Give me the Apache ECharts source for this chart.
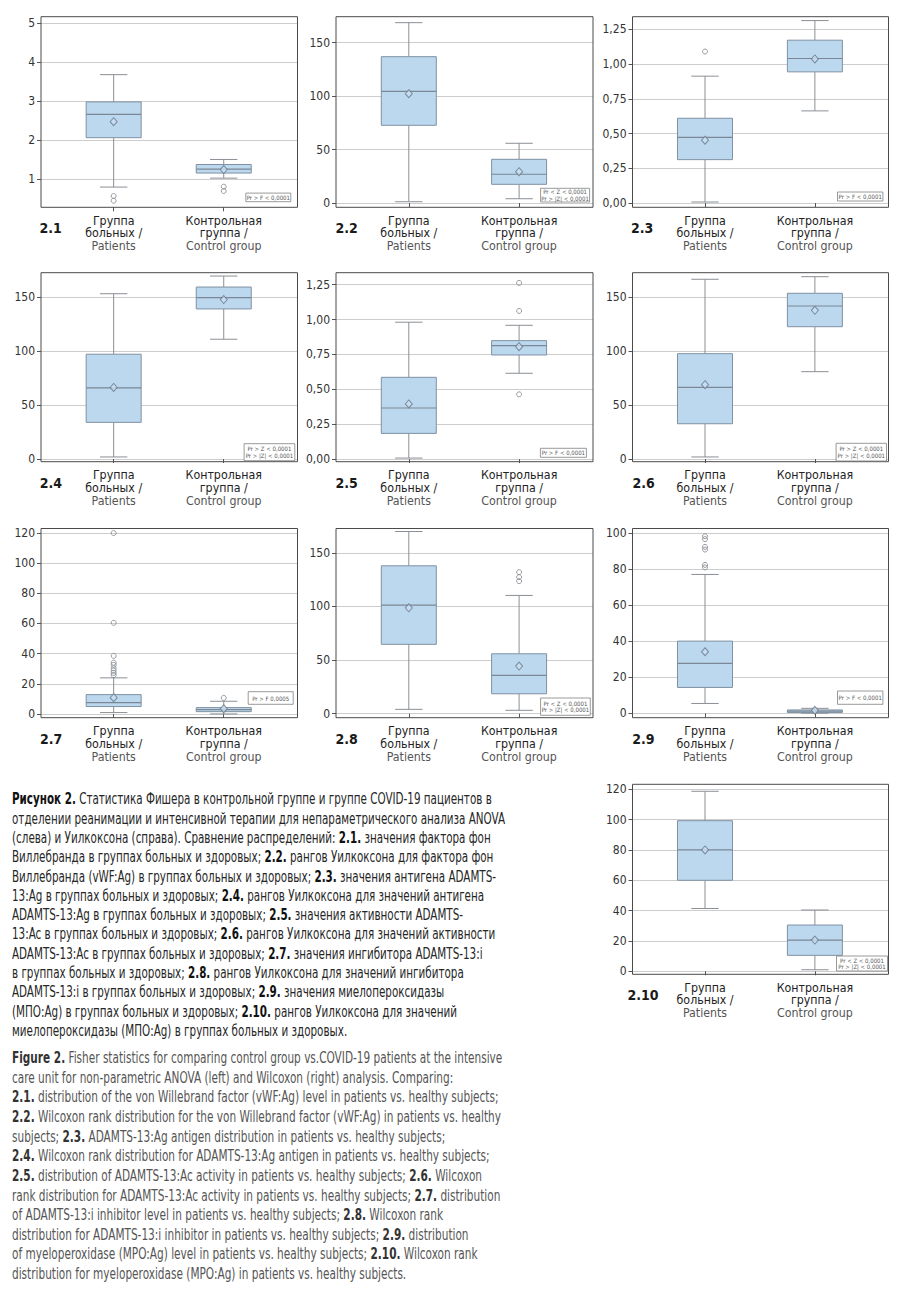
<!DOCTYPE html>
<html>
<head>
<meta charset="utf-8">
<script src="https://cdn.jsdelivr.net/npm/echarts@6/dist/echarts.min.js"></script>
<style>
html,body{margin:0;padding:0;background:#fff;}
#chart{position:absolute;left:0;top:0;width:900px;height:1291px;}
.cap{position:absolute;left:12px;font-family:"Liberation Sans Narrow","Arial Narrow","DejaVu Sans Condensed",Roboto,sans-serif;font-size:15px;white-space:nowrap;transform-origin:0 0;}
#capRu{top:790.4px;color:#262626;}
#capEn{top:1049.2px;color:#555;}
#capRu div{height:19.3px;line-height:19.3px;}
#capEn div{height:19.64px;line-height:19.64px;}
#capRu b{color:#111;}
#capEn b{color:#333;}
</style>
</head>
<body>
<div id="chart"></div>
<div id="capRu" class="cap"></div>
<div id="capEn" class="cap"></div>
<script>
const FONT = '"Liberation Sans Narrow","Arial Narrow","DejaVu Sans Condensed",Roboto,sans-serif';

// ---------------- DATA ----------------
const categoryLines = [['Группа', 'больных /', 'Patients'], ['Контрольная', 'группа /', 'Control group']];
const panelNames = ['2.1', '2.2', '2.3', '2.4', '2.5', '2.6', '2.7', '2.8', '2.9', '2.10'];

// box stats: [min whisker, Q1, median, Q3, max whisker]
const box21P = [0.79, 2.06, 2.66, 2.98, 3.68];
const box21C = [1.02, 1.15, 1.25, 1.37, 1.50];
const mean21 = [2.47, 1.24];
const out21P = [0.56, 0.44];
const out21C = [0.80, 0.69];

const box22P = [1.2, 72.7, 104.5, 136.9, 168.7];
const box22C = [4.0, 17.5, 26.9, 40.9, 55.9];
const mean22 = [102.3, 29.3];

const box23P = [0.007, 0.312, 0.473, 0.610, 0.913];
const box23C = [0.663, 0.944, 1.040, 1.172, 1.313];
const mean23 = [0.452, 1.037];
const out23P = [1.090];

const box24P = [1.9, 34.0, 66.0, 97.2, 153.3];
const box24C = [111.1, 139.2, 149.7, 159.5, 169.7];
const mean24 = [66.4, 147.9];

const box25P = [0.007, 0.184, 0.366, 0.586, 0.981];
const box25C = [0.615, 0.746, 0.813, 0.849, 0.959];
const mean25 = [0.395, 0.806];
const out25C = [1.263, 1.062, 0.464];

const box26P = [1.9, 32.7, 66.5, 97.7, 166.7];
const box26C = [81.0, 122.7, 141.9, 153.7, 169.1];
const mean26 = [68.9, 137.9];

const box27P = [0.9, 4.9, 7.5, 12.8, 23.9];
const box27C = [0.0, 1.5, 2.9, 4.2, 8.4];
const mean27 = [10.8, 3.5];
const out27P = [119.9, 60.4, 38.5, 34.0, 32.5, 30.3, 28.7, 27.2, 25.7];
const out27C = [10.6];

const box28P = [4.1, 64.7, 101.3, 137.9, 169.9];
const box28C = [3.2, 18.6, 35.8, 55.9, 110.3];
const mean28 = [98.8, 44.4];
const out28C = [132.0, 127.4, 123.6];

const box29P = [5.5, 14.4, 27.7, 40.1, 77.1];
const box29C = [0.1, 0.5, 1.2, 1.9, 2.8];
const mean29 = [34.2, 1.7];
const out29P = [98.3, 96.7, 92.4, 90.9, 82.4, 81.0];

const box210P = [41.4, 60.0, 80.0, 99.3, 118.7];
const box210C = [1.0, 10.5, 20.6, 30.5, 40.4];
const mean210 = [80.0, 20.6];

// y-axis extents and tick steps
const yExtent = [[0.27, 5.17], [-4.0, 174.3], [-0.031, 1.341], [-2.5, 172.8], [-0.019, 1.336],
                 [-2.5, 172.8], [-2.5, 122.9], [-3.7, 172.7], [-2.4, 102.6], [-2.0, 123.3]];
const yStep = [1, 50, 0.25, 50, 0.25, 50, 20, 50, 20, 20];
const yDecimals = [0, 0, 2, 0, 2, 0, 0, 0, 0, 0];

const statF = ['Pr > F < 0,0001'];
const statF7 = ['Pr > F 0,0005'];
const statZlow = ['Pr < Z < 0,0001', 'Pr > |Z| < 0,0001'];
const statZhigh = ['Pr > Z < 0,0001', 'Pr > |Z| < 0,0001'];

const captionRu = [
  '<b>Рисунок 2.</b> Статистика Фишера в контрольной группе и группе COVID-19 пациентов в',
  'отделении реанимации и интенсивной терапии для непараметрического анализа ANOVA',
  '(слева) и Уилкоксона (справа). Сравнение распределений: <b>2.1.</b> значения фактора фон',
  'Виллебранда в группах больных и здоровых; <b>2.2.</b> рангов Уилкоксона для фактора фон',
  'Виллебранда (vWF:Ag) в группах больных и здоровых; <b>2.3.</b> значения антигена ADAMTS-',
  '13:Ag в группах больных и здоровых; <b>2.4.</b> рангов Уилкоксона для значений антигена',
  'ADAMTS-13:Ag в группах больных и здоровых; <b>2.5.</b> значения активности ADAMTS-',
  '13:Ac в группах больных и здоровых; <b>2.6.</b> рангов Уилкоксона для значений активности',
  'ADAMTS-13:Ac в группах больных и здоровых; <b>2.7.</b> значения ингибитора ADAMTS-13:i',
  'в группах больных и здоровых; <b>2.8.</b> рангов Уилкоксона для значений ингибитора',
  'ADAMTS-13:i в группах больных и здоровых; <b>2.9.</b> значения миелопероксидазы',
  '(МПО:Ag) в группах больных и здоровых; <b>2.10.</b> рангов Уилкоксона для значений',
  'миелопероксидазы (МПО:Ag) в группах больных и здоровых.'
];
const captionEn = [
  '<b>Figure 2.</b> Fisher statistics for comparing control group vs.COVID-19 patients at the intensive',
  'care unit for non-parametric ANOVA (left) and Wilcoxon (right) analysis. Comparing:',
  '<b>2.1.</b> distribution of the von Willebrand factor (vWF:Ag) level in patients vs. healthy subjects;',
  '<b>2.2.</b> Wilcoxon rank distribution for the von Willebrand factor (vWF:Ag) in patients vs. healthy',
  'subjects; <b>2.3.</b> ADAMTS-13:Ag antigen distribution in patients vs. healthy subjects;',
  '<b>2.4.</b> Wilcoxon rank distribution for ADAMTS-13:Ag antigen in patients vs. healthy subjects;',
  '<b>2.5.</b> distribution of ADAMTS-13:Ac activity in patients vs. healthy subjects; <b>2.6.</b> Wilcoxon',
  'rank distribution for ADAMTS-13:Ac activity in patients vs. healthy subjects; <b>2.7.</b> distribution',
  'of ADAMTS-13:i inhibitor level in patients vs. healthy subjects; <b>2.8.</b> Wilcoxon rank',
  'distribution for ADAMTS-13:i inhibitor in patients vs. healthy subjects; <b>2.9.</b> distribution',
  'of myeloperoxidase (MPO:Ag) level in patients vs. healthy subjects; <b>2.10.</b> Wilcoxon rank',
  'distribution for myeloperoxidase (MPO:Ag) in patients vs. healthy subjects.'
];

// ---------------- LAYOUT ----------------
const COL_LEFT = [41, 336, 632.5];
const COL_WIDTH = [256.5, 257, 256];
const ROW_TOP = [16.7, 272.7, 528.5, 784.3];
const ROW_HEIGHT = [190.6, 189, 189.2, 190];
const cells = [[0,0],[0,1],[0,2],[1,0],[1,1],[1,2],[2,0],[2,1],[2,2],[3,2]];
// stat box: [right offset, bottom offset, width, height]
const statBoxes = [[6.7,5.6,45,8.6],[3.4,5.3,49,13.7],[5.6,6.3,45.4,9],[2.7,1,50.7,17],[6.6,4.4,46,9],
                   [2,0.7,50.4,17.7],[4.3,13.4,45,12.6],[2.7,2.4,49.7,17.3],[5.6,13.4,45.4,13.3],[1,3.3,51,15]];
const numberDx = [-1.5,-0.5,-1.5,-1.3,-0.5,0,-1,-0.5,-0.3,-5];

const panels = [
  {boxP: box21P, boxC: box21C, mean: mean21, outP: out21P, outC: out21C, stat: statF},
  {boxP: box22P, boxC: box22C, mean: mean22, outP: [], outC: [], stat: statZlow},
  {boxP: box23P, boxC: box23C, mean: mean23, outP: out23P, outC: [], stat: statF},
  {boxP: box24P, boxC: box24C, mean: mean24, outP: [], outC: [], stat: statZhigh},
  {boxP: box25P, boxC: box25C, mean: mean25, outP: [], outC: out25C, stat: statF},
  {boxP: box26P, boxC: box26C, mean: mean26, outP: [], outC: [], stat: statZhigh},
  {boxP: box27P, boxC: box27C, mean: mean27, outP: out27P, outC: out27C, stat: statF7},
  {boxP: box28P, boxC: box28C, mean: mean28, outP: [], outC: out28C, stat: statZlow},
  {boxP: box29P, boxC: box29C, mean: mean29, outP: out29P, outC: [], stat: statF},
  {boxP: box210P, boxC: box210C, mean: mean210, outP: [], outC: [], stat: statZlow}
];

// ---------------- STYLE ----------------
const BOX_HALF = 27.5, CAP_HALF = 13.7;
const BOX_FILL = '#bcd8ee', BOX_EDGE = '#7f91a2', WHISKER = '#8a8f95', MEDIAN = '#7b8794';

function renderBox(params, api) {
  const x = api.value(0);
  const p = [1, 2, 3, 4, 5].map(function (k) { return api.coord([x, api.value(k)]); });
  const cx = p[0][0];
  const ws = {stroke: WHISKER, lineWidth: 1, fill: null};
  return {
    type: 'group',
    children: [
      {type: 'line', shape: {x1: cx, y1: p[0][1], x2: cx, y2: p[1][1]}, style: ws},
      {type: 'line', shape: {x1: cx, y1: p[3][1], x2: cx, y2: p[4][1]}, style: ws},
      {type: 'line', shape: {x1: cx - CAP_HALF, y1: p[0][1], x2: cx + CAP_HALF, y2: p[0][1]}, style: ws},
      {type: 'line', shape: {x1: cx - CAP_HALF, y1: p[4][1], x2: cx + CAP_HALF, y2: p[4][1]}, style: ws},
      {type: 'rect', shape: {x: cx - BOX_HALF, y: p[3][1], width: 2 * BOX_HALF, height: p[1][1] - p[3][1]},
       style: {fill: BOX_FILL, stroke: BOX_EDGE, lineWidth: 1}},
      {type: 'line', shape: {x1: cx - BOX_HALF, y1: p[2][1], x2: cx + BOX_HALF, y2: p[2][1]},
       style: {stroke: MEDIAN, lineWidth: 1.2}}
    ]
  };
}

const grids = [], xAxes = [], yAxes = [], series = [], graphics = [];

panels.forEach(function (pn, i) {
  const r = cells[i][0], c = cells[i][1];
  const L = COL_LEFT[c], T = ROW_TOP[r], W = COL_WIDTH[c], H = ROW_HEIGHT[r];
  grids.push({left: L, top: T, width: W, height: H, show: false});
  const step = yStep[i], dec = yDecimals[i];
  yAxes.push({
    gridIndex: i, type: 'value', min: yExtent[i][0], max: yExtent[i][1],
    minInterval: step, maxInterval: step,
    axisLine: {show: false},
    axisTick: {show: true, length: 4, lineStyle: {color: '#555'}},
    axisLabel: {
      showMinLabel: false, showMaxLabel: false, margin: 6, fontSize: 12, color: '#333', fontFamily: FONT,
      formatter: function (v) {
        const q = v / step;
        if (Math.abs(q - Math.round(q)) > 1e-6) return '';
        return dec ? v.toFixed(dec).replace('.', ',') : String(Math.round(v));
      }
    },
    splitLine: {show: true, showMinLine: false, showMaxLine: false, lineStyle: {color: '#cdcdcd', width: 1}}
  });
  xAxes.push({
    gridIndex: i, type: 'value', min: 0.34, max: 2.67, minInterval: 1, maxInterval: 1,
    axisLine: {show: false},
    axisTick: {show: true, length: 4, lineStyle: {color: '#555'}},
    splitLine: {show: false},
    axisLabel: {
      showMinLabel: false, showMaxLabel: false, margin: 7,
      formatter: function (v) {
        const k = Math.round(v);
        if (Math.abs(v - k) > 1e-6 || k < 1 || k > 2) return '';
        const Ls = categoryLines[k - 1];
        return '{a|' + Ls[0] + '}\n{a|' + Ls[1] + '}\n{b|' + Ls[2] + '}';
      },
      rich: {
        a: {fontSize: 12.3, lineHeight: 12.8, color: '#222', fontFamily: FONT},
        b: {fontSize: 12.3, lineHeight: 12.8, color: '#555', fontFamily: FONT}
      }
    }
  });
  series.push({
    type: 'custom', xAxisIndex: i, yAxisIndex: i, renderItem: renderBox,
    encode: {x: 0, y: [1, 2, 3, 4, 5]},
    data: [[1].concat(pn.boxP), [2].concat(pn.boxC)], z: 2
  });
  series.push({
    type: 'scatter', xAxisIndex: i, yAxisIndex: i, symbol: 'circle', symbolSize: 5,
    itemStyle: {color: 'rgba(255,255,255,0)', borderColor: '#7f858c', borderWidth: 1},
    data: pn.outP.map(function (v) { return [1, v]; }).concat(pn.outC.map(function (v) { return [2, v]; })),
    z: 3
  });
  series.push({
    type: 'scatter', xAxisIndex: i, yAxisIndex: i, symbol: 'diamond', symbolSize: [7, 8],
    itemStyle: {color: '#c9def0', borderColor: '#66778a', borderWidth: 1},
    data: [[1, pn.mean[0]], [2, pn.mean[1]]], z: 4
  });
  // frame
  graphics.push({type: 'rect', z: 100, silent: true,
    shape: {x: L, y: T, width: W, height: H},
    style: {fill: null, stroke: '#4a4a4a', lineWidth: 1}});
  // panel number
  graphics.push({type: 'text', z: 100, silent: true, x: L + numberDx[i], y: T + H + 21,
    style: {text: panelNames[i], fontSize: 14, fontWeight: 'bold', fontFamily: FONT, fill: '#1a1a1a',
            verticalAlign: 'middle', align: 'left'}});
  // stat box
  const sb = statBoxes[i];
  const bx = L + W - sb[0] - sb[2], by = T + H - sb[1] - sb[3];
  graphics.push({type: 'rect', z: 100, silent: true,
    shape: {x: bx, y: by, width: sb[2], height: sb[3]},
    style: {fill: '#fff', stroke: '#808080', lineWidth: 0.8}});
  graphics.push({type: 'text', z: 101, silent: true, x: bx + sb[2] / 2, y: by + sb[3] / 2,
    style: {text: pn.stat.join('\n'), fontSize: 6, lineHeight: 6.6, fontFamily: FONT, fill: '#555',
            align: 'center', verticalAlign: 'middle'}});
});

const chart = echarts.init(document.getElementById('chart'), null, {renderer: 'svg', width: 900, height: 1291});
chart.setOption({
  animation: false,
  backgroundColor: '#fff',
  grid: grids, xAxis: xAxes, yAxis: yAxes, series: series, graphic: graphics
});

// captions
function fillCaption(id, lines, refIndex, targetWidth) {
  const el = document.getElementById(id);
  el.innerHTML = lines.map(function (t) { return '<div><span>' + t + '</span></div>'; }).join('');
  const span = el.querySelectorAll('span')[refIndex];
  const w = span.getBoundingClientRect().width;
  if (w > 0) el.style.transform = 'scaleX(' + (targetWidth / w) + ')';
}
fillCaption('capRu', captionRu, 1, 493);
fillCaption('capEn', captionEn, 3, 489);
</script>
</body>
</html>
